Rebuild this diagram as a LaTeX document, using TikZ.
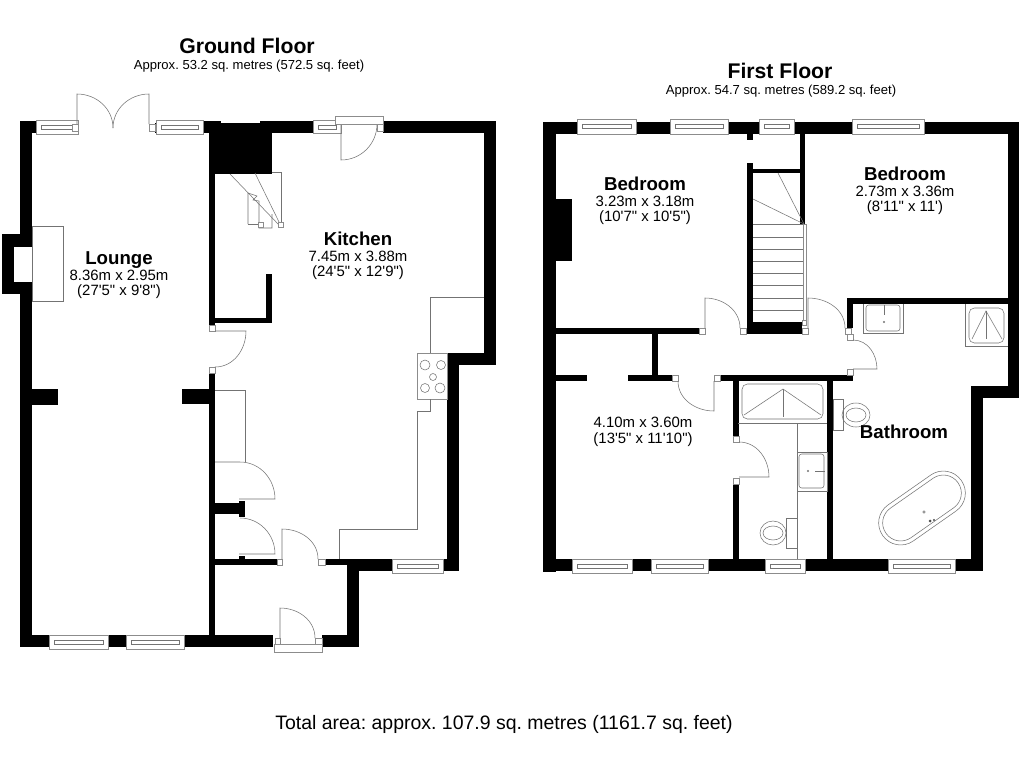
\documentclass[tikz,border=0pt]{standalone}
\usepackage{fontspec}
\newfontfamily\planfont{Liberation Sans}
\tikzset{
  wall/.style={fill=black},
  thinline/.style={draw=black!55,line width=0.4pt},
  glass/.style={draw=black!45,fill=white,line width=0.4pt},
  roomname/.style={font=\planfont\frenchspacing\fontsize{14}{14}\selectfont\bfseries,inner sep=0pt,anchor=base},
  roomsize/.style={font=\planfont\frenchspacing\fontsize{11.2}{11.2}\selectfont,inner sep=0pt,anchor=base},
  floorname/.style={font=\planfont\frenchspacing\fontsize{15.9}{16}\selectfont\bfseries,inner sep=0pt,anchor=base},
  floorarea/.style={font=\planfont\frenchspacing\fontsize{9.8}{10}\selectfont,inner sep=0pt,anchor=base}
}
\begin{document}
\begin{tikzpicture}[x=0.75pt,y=-0.75pt]
  \useasboundingbox (0,0) rectangle (1024,768);
  \fill[white] (0,0) rectangle (1024,768);

  % ground floor walls
  \foreach \a/\b/\c/\d in {20/121/32/247,2/234/32/247,2/234/14/294,2/282/32/294,20/282/32/647,
      20/121/36/133,203/121/221/133,260/121/313/133,209/123/272/174,155/123/157/133,
      383/121/496/133,484/121/496/365,447/353/496/365,447/353/459/571,443/559/459/571,
      325/559/392/565,347/559/392/571,347/559/359/647,322/635/359/647,20/635/273/647,
      209/174/215/325,215/318/272/323,266/274/272/323,209/373/215/635,
      32/389/58/405,182/389/209/404,215/503/239/514,239/501/245/517,215/559/277/565,239/556/245/559} {
    \fill[wall] (\a,\b) rectangle (\c,\d);
  }

  % first floor walls
  \foreach \a/\b/\c/\d in {543/122/556/572,543/122/1019/134,1008/122/1019/398,971/386/1019/398,971/386/983/571,
      543/559/983/571,556/199/572/261,556/328/699/334,747/134/753/140,747/163/753/334,
      747/322/802/334,753/169/800/173,800/134/805/224,847/298/853/328,847/298/1008/304,
      720/375/853/381,628/375/672/381,556/375/587/381,652/334/658/375,
      733/381/739/436,733/484/739/559,827/381/833/559} {
    \fill[wall] (\a,\b) rectangle (\c,\d);
  }

  % windows
  \foreach \a/\b/\c/\d in {36/120/78/134,156/120/203/134,313/120/341/133,392/559/443/573,
      49/635/108/649,126/635/184/649,
      577/119/636/134,670/119/728/134,759/119/794/134,852/119/924/134,
      572/559/632/573,651/559/708/573,765/559/805/573,888/559/955/573} {
    \draw[glass] (\a,\b) rectangle (\c,\d);
    \draw[thinline] (\a+5,\b+5) rectangle (\c-5,\b+9);
  }

  % door frames
  \foreach \a/\b/\c/\d in {72/124/78/131,149/124/155/131,377/124/383/131,209/325/215/331,209/367/215/373,
      277/559/282/565,318/559/325/565,275/638/280/644,315/638/322/644,
      699/328/705/334,740/328/746/334,802/328/808/334,845/328/851/334,847/334/853/340,847/369/853/375,
      672/375/678/381,714/375/720/381,733/436/739/442,733/478/739/484} {
    \draw[glass] (\a,\b) rectangle (\c,\d);
  }

  % doors
  \draw[thinline] (77,124) -- (77,94) to[out=0,in=90] (113,128);
  \draw[thinline] (149,124) -- (149,94) to[out=180,in=90] (113,128);
  \draw[thinline] (341,124) -- (341,160) to[out=0,in=-90] (377,124);
  \draw[thinline] (215,331) -- (246,331) to[out=-90,in=0] (215,367);
  \draw[thinline] (215,462) -- (240,462) to[out=0,in=90] (275,499) -- (239,499);
  \draw[thinline] (240,518) to[out=0,in=90] (275,554) -- (239,554);
  \draw[thinline] (282,559) -- (282,529) to[out=0,in=90] (318,559);
  \draw[thinline] (280,638) -- (280,608) to[out=0,in=90] (315,638);
  \draw[thinline] (705,328) -- (705,298) to[out=0,in=90] (740,328);
  \draw[thinline] (808,328) -- (808,298) to[out=0,in=90] (845,328);
  \draw[thinline] (853,340) to[out=0,in=90] (877,369) -- (853,369);
  \draw[thinline] (714,381) -- (714,411) to[out=180,in=-90] (678,381);
  \draw[thinline] (739,442) to[out=0,in=90] (769,477) -- (739,477);
  \draw[glass] (335,116) rectangle (383,124);
  \draw[glass] (274,644) rectangle (322,652);

  % ground floor stairs
  \draw[thinline] (272,172) -- (281,172) -- (281,224);
  \draw[thinline] (230,174) -- (279,225);
  \draw[thinline] (255,173) -- (280,224);
  \draw[thinline] (248,224) -- (248,193) -- (257,196) -- (253,200) -- (259,201) -- (259,228) -- (272,228) -- (272,214);
  \draw[thinline] (248,224) -- (258,224);
  \draw[glass] (278,222) rectangle (283,227);
  \draw[glass] (258,222) rectangle (263,227);

  % ground floor fittings
  \draw[thinline] (32,226) rectangle (63,301);
  \draw[thinline] (215,390) -- (245,390) -- (245,462);
  \draw[thinline] (484,297) -- (430,297) -- (430,353);
  \draw[glass] (417,353) rectangle (447,399);
  \draw[thinline] (430,399) -- (430,411) -- (417,411) -- (417,529) -- (339,529) -- (339,559);
  \foreach \x/\y/\r in {425/365/5,441/365/4.5,433/377/3.5,425/388/4.5,440/388/5} {
    \draw[thinline] (\x,\y) circle[radius=\r];
  }

  % first floor stairs
  \draw[thinline] (778,173) -- (804,224);
  \draw[thinline] (753,199) -- (804,224);
  \foreach \y in {224,237,249,261,273,285,298,310} {
    \draw[thinline] (753,\y) -- (803,\y);
  }
  \draw[glass] (803,224) rectangle (806,322);
  \draw[glass] (802,320) rectangle (806,325);

  % shower room
  \draw[thinline,rounded corners=4pt] (742,384) rectangle (823,419);
  \draw[thinline] (738,423) -- (827,423);
  \draw[thinline] (744,415) -- (783,389) -- (821,415);
  \draw[thinline] (783,389) -- (783,417);
  \draw[thinline] (797,423) -- (797,559);
  \draw[thinline] (797,452) rectangle (827,491);
  \draw[thinline,rounded corners=2pt] (799,454) rectangle (824,488);
  \draw[thinline] (815,471) -- (825,471);
  \draw[thinline] (808,471) circle[radius=0.8];
  \draw[thinline] (786,518) rectangle (797,548);
  \draw[thinline] (773,533) ellipse[x radius=13,y radius=12];
  \draw[thinline] (773,533) ellipse[x radius=10,y radius=7];

  % bathroom
  \draw[thinline] (863,304) -- (863,333) -- (903,333) -- (903,304);
  \draw[thinline,rounded corners=2pt] (866,305) rectangle (900,331);
  \draw[thinline] (884,305) -- (884,315);
  \draw[thinline] (884,322) circle[radius=0.8];
  \draw[thinline] (965,304) -- (965,346) -- (1008,346);
  \draw[thinline,rounded corners=4pt] (969,308) rectangle (1004,343);
  \draw[thinline] (972,339) -- (986,311) -- (1002,339);
  \draw[thinline] (986,311) -- (986,339);
  \draw[thinline] (833,399) rectangle (843,430);
  \draw[thinline] (856,415) ellipse[x radius=14,y radius=12];
  \draw[thinline] (856,415) ellipse[x radius=10,y radius=7];
  \draw[thinline,rotate around={35:(922,508)},rounded corners=16.4pt] (874,486) rectangle (970,530);
  \draw[thinline,rotate around={35:(922,508)},rounded corners=13.4pt] (878,490) rectangle (966,526);
  \draw[thinline] (924,512) circle[radius=1.2];
  \fill[black!70] (930,521) circle[radius=1.5];
  \fill[black!70] (934,520) circle[radius=1.2];

  % labels
  \node[floorname] (groundname) at (247,53) {Ground Floor};
  \node[floorarea] (groundarea) at (249,69) {Approx. 53.2 sq. metres (572.5 sq. feet)};
  \node[floorname] (firstname) at (780,78) {First Floor};
  \node[floorarea] (firstarea) at (781,94) {Approx. 54.7 sq. metres (589.2 sq. feet)};

  \node[roomname] (lounge) at (119,264) {Lounge};
  \node[roomsize] (loungem) at (119,280) {8.36m x 2.95m};
  \node[roomsize] (loungeft) at (119,295) {(27'5" x 9'8")};
  \node[roomname] (kitchen) at (358,245) {Kitchen};
  \node[roomsize] (kitchenm) at (358,261) {7.45m x 3.88m};
  \node[roomsize] (kitchenft) at (358,276) {(24'5" x 12'9")};
  \node[roomname] (bedone) at (645,190) {Bedroom};
  \node[roomsize] (bedonem) at (645,206) {3.23m x 3.18m};
  \node[roomsize] (bedoneft) at (645,221) {(10'7" x 10'5")};
  \node[roomname] (bedtwo) at (905,180) {Bedroom};
  \node[roomsize] (bedtwom) at (905,196) {2.73m x 3.36m};
  \node[roomsize] (bedtwoft) at (905,211) {(8'11" x 11')};
  \node[roomsize] (bedthreem) at (643,427) {4.10m x 3.60m};
  \node[roomsize] (bedthreeft) at (643,443) {(13'5" x 11'10")};
  \node[roomname] (bathroom) at (904,438) {Bathroom};

  \node[font=\planfont\frenchspacing\fontsize{14.6}{15}\selectfont,inner sep=0pt,anchor=base] (totalarea) at (504,729) {Total area: approx. 107.9 sq. metres (1161.7 sq. feet)};
\end{tikzpicture}
\end{document}
